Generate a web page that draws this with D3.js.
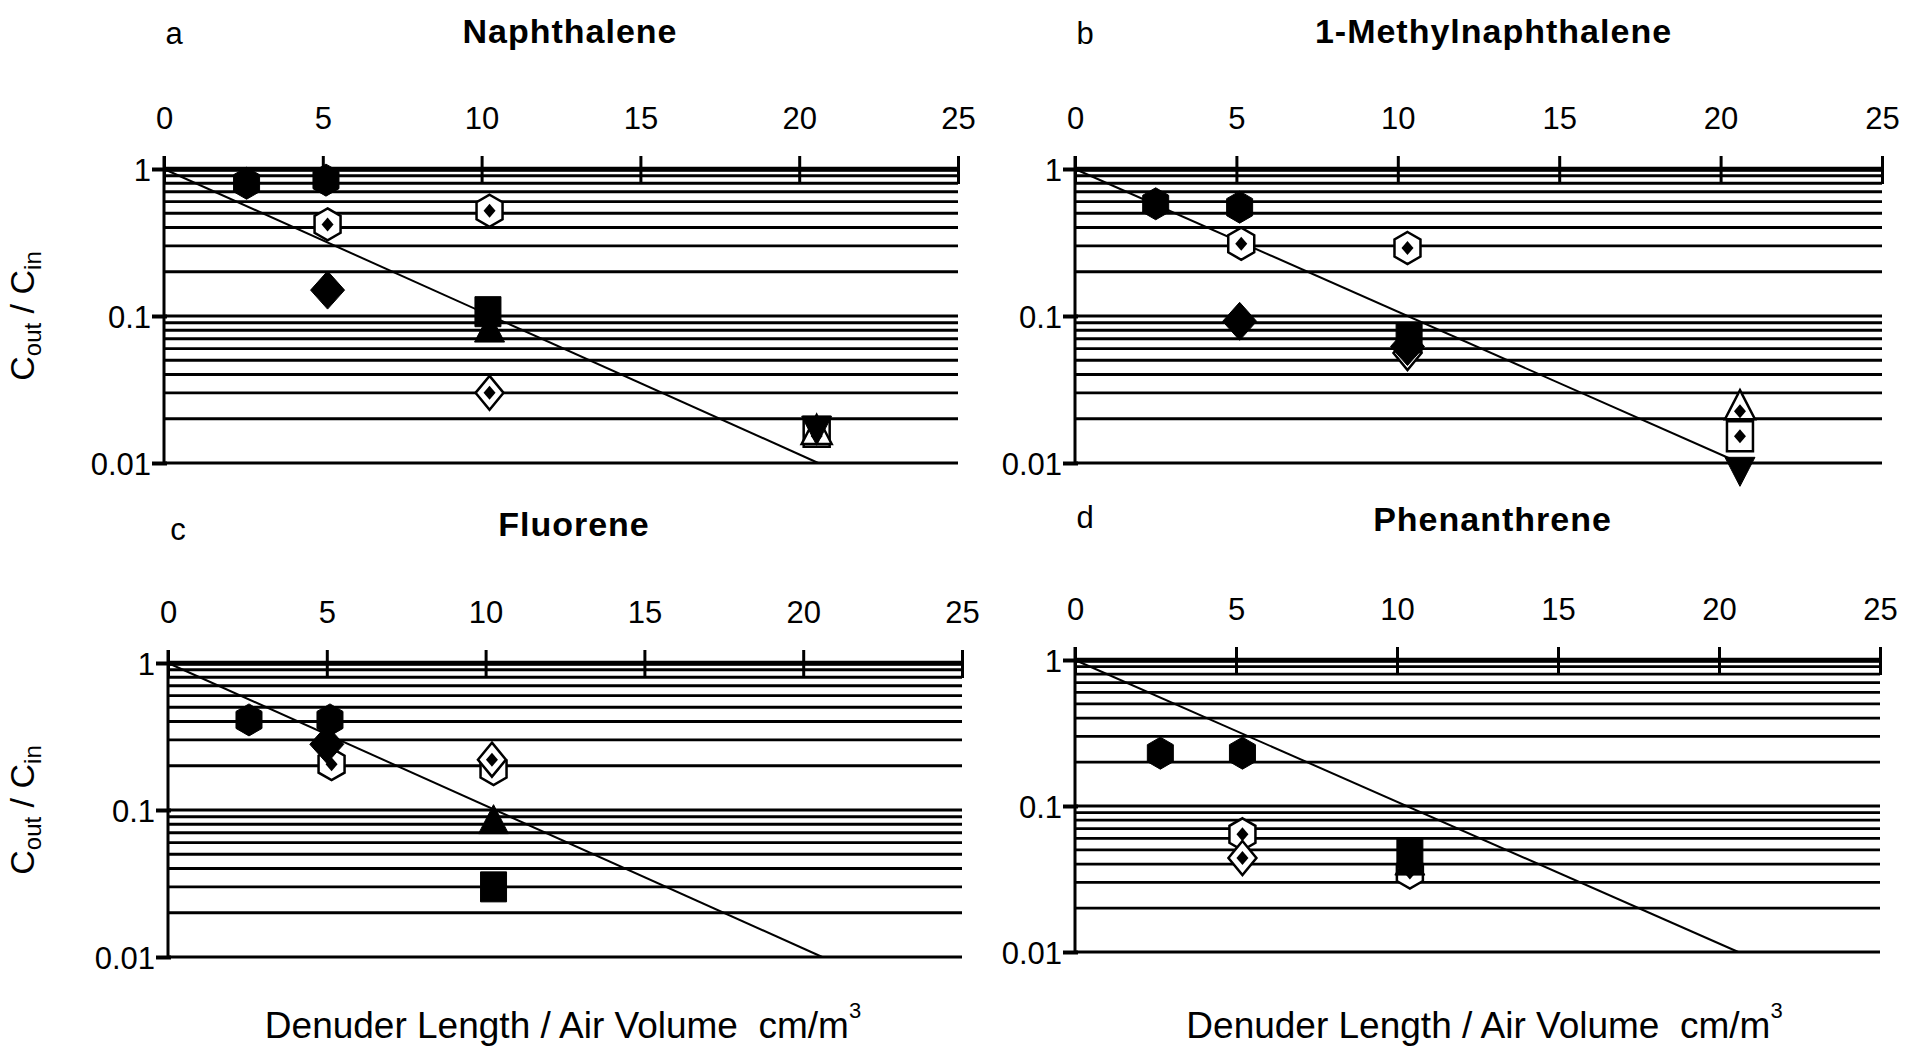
<!DOCTYPE html>
<html>
<head>
<meta charset="utf-8">
<script src="https://cdn.jsdelivr.net/npm/d3@7"></script>
<style>
body { margin: 0; background: #fff; }
text { font-family: "Liberation Sans", Arial, sans-serif; fill: #000; }
</style>
</head>
<body>
<script>
var compounds = ["Naphthalene", "1-Methylnaphthalene", "Fluorene", "Phenanthrene"];
var letters = ["a", "b", "c", "d"];
var xTicks = [0, 5, 10, 15, 20, 25];
var yTicks = [1, 0.1, 0.01];
var yTickLabels = ["1", "0.1", "0.01"];
var fitLine = [[0, 1], [20.6, 0.01]]; // prosta odniesienia

// [symbol, x, Cout/Cin]
var naphthalene = [
	["hexFilled", 2.6, 0.80], ["hexFilled", 5.1, 0.84],
	["hexOpen", 5.15, 0.42], ["hexOpen", 10.25, 0.52],
	["diamondFilled", 5.15, 0.15],
	["diamondOpen", 10.25, 0.030],
	["squareFilled", 10.2, 0.107],
	["triangleFilled", 10.25, 0.079],
	["squareOpen", 20.55, 0.0163], ["triangleOpen", 20.55, 0.016],
	["triangleDownFilled", 20.55, 0.0175]
];
var methylnaphthalene = [
	["hexFilled", 2.5, 0.58], ["hexFilled", 5.1, 0.55],
	["hexOpen", 5.15, 0.31], ["hexOpen", 10.3, 0.29],
	["diamondFilled", 5.1, 0.092], ["diamondFilled", 10.3, 0.062],
	["diamondOpen", 10.3, 0.056],
	["squareFilled", 10.35, 0.071],
	["triangleOpen", 20.6, 0.0236],
	["squareOpen", 20.6, 0.0152],
	["triangleDownFilled", 20.6, 0.0092]
];
var fluorene = [
	["hexFilled", 2.55, 0.41], ["hexFilled", 5.1, 0.41],
	["diamondFilled", 5.0, 0.28],
	["hexOpen", 5.15, 0.205], ["hexOpen", 10.25, 0.19],
	["diamondOpen", 10.2, 0.22],
	["triangleFilled", 10.25, 0.082],
	["squareFilled", 10.25, 0.030]
];
var phenanthrene = [
	["hexFilled", 2.65, 0.23], ["hexFilled", 5.2, 0.23],
	["hexOpen", 5.2, 0.064], ["hexOpen", 10.4, 0.035],
	["diamondOpen", 5.2, 0.044],
	["squareFilled", 10.4, 0.048],
	["triangleFilled", 10.4, 0.040]
];
var panelData = [naphthalene, methylnaphthalene, fluorene, phenanthrene];

var boxes = [
	{x0: 164, x1: 958, top: 169, bot: 463, letterY: 44, titleY: 43},
	{x0: 1075, x1: 1882, top: 169, bot: 463, letterY: 44, titleY: 43},
	{x0: 168, x1: 962, top: 663, bot: 957, letterY: 540, titleY: 536},
	{x0: 1075, x1: 1880, top: 660, bot: 952, letterY: 528, titleY: 531}
];

var shapes = {
	hex: [[0, -16], [13, -8.5], [13, 8.5], [0, 16], [-13, 8.5], [-13, -8.5]],
	diamond: [[0, -19], [17, 0], [0, 19], [-17, 0]],
	diamondSmall: [[0, -17], [14, 0], [0, 17], [-14, 0]],
	square: [[-13, -15], [13, -15], [13, 15], [-13, 15]],
	triUp: [[0, -18], [15, 11], [-15, 11]],
	triDown: [[0, 18], [15, -11], [-15, -11]],
	inner: [[0, -7], [6, 0], [0, 7], [-6, 0]]
};
var markers = {
	hexFilled: {shape: "hex", open: false},
	hexOpen: {shape: "hex", open: true},
	diamondFilled: {shape: "diamond", open: false},
	diamondOpen: {shape: "diamondSmall", open: true},
	squareFilled: {shape: "square", open: false},
	squareOpen: {shape: "square", open: true},
	triangleFilled: {shape: "triUp", open: false},
	triangleOpen: {shape: "triUp", open: true},
	triangleDownFilled: {shape: "triDown", open: false}
};

function poly(pts) {
	return "M" + pts.map(function(p) { return p[0] + "," + p[1]; }).join("L") + "Z";
}

var svg = d3.select("body")
	.append("svg")
	.attr("width", 1907)
	.attr("height", 1048);

svg.append("rect").attr("width", 1907).attr("height", 1048).attr("fill", "#fff");

function drawPanel(i) {
	var box = boxes[i];
	var x = d3.scaleLinear().domain([0, 25]).range([box.x0, box.x1]);
	var y = d3.scaleLog().domain([0.01, 1]).range([box.bot, box.top]);
	var g = svg.append("g");

	// poziome linie siatki
	g.selectAll("line.grid")
		.data(y.ticks())
		.enter().append("line")
		.attr("x1", box.x0).attr("x2", box.x1)
		.attr("y1", function(d) { return y(d); })
		.attr("y2", function(d) { return y(d); })
		.attr("stroke", "#000")
		.attr("stroke-width", function(d) { return d == 1 ? 4.5 : 2.8; });

	// os gorna
	var top = g.append("g")
		.attr("transform", "translate(0," + box.top + ")")
		.call(d3.axisTop(x).tickValues(xTicks).tickSize(13).tickSizeOuter(0).tickPadding(27));
	top.select(".domain").attr("stroke-width", 4.5);
	top.selectAll(".tick line").attr("y1", 15).attr("y2", -13).attr("stroke-width", 3);
	top.selectAll(".tick text").attr("font-size", 31);

	// os lewa
	var left = g.append("g")
		.attr("transform", "translate(" + box.x0 + ",0)")
		.call(d3.axisLeft(y).tickValues(yTicks)
			.tickFormat(function(d, k) { return yTickLabels[k]; })
			.tickSize(12).tickPadding(1));
	left.select(".domain").remove();
	left.selectAll(".tick line").attr("x1", 3).attr("x2", -12).attr("stroke-width", 4);
	left.selectAll(".tick text").attr("font-size", 31).attr("dy", "0.36em");
	g.append("line")
		.attr("x1", box.x0).attr("x2", box.x0)
		.attr("y1", box.top - 13).attr("y2", box.bot + 2)
		.attr("stroke", "#000").attr("stroke-width", 3);

	// prosta
	g.append("path")
		.datum(fitLine)
		.attr("d", d3.line().x(function(d) { return x(d[0]); }).y(function(d) { return y(d[1]); }))
		.attr("stroke", "#000").attr("stroke-width", 2).attr("fill", "none");

	// punkty: najpierw otwarte, potem pelne
	var pts = panelData[i].slice().sort(function(a, b) {
		return (markers[b[0]].open ? 1 : 0) - (markers[a[0]].open ? 1 : 0);
	});
	var m = g.selectAll("g.pt")
		.data(pts)
		.enter().append("g")
		.attr("transform", function(d) { return "translate(" + x(d[1]) + "," + y(d[2]) + ")"; });
	m.append("path")
		.attr("d", function(d) { return poly(shapes[markers[d[0]].shape]); })
		.attr("fill", function(d) { return markers[d[0]].open ? "#fff" : "#000"; })
		.attr("stroke", "#000")
		.attr("stroke-width", function(d) { return markers[d[0]].open ? 2.5 : 1; });
	m.filter(function(d) { return markers[d[0]].open; })
		.append("path")
		.attr("d", function(d) {
			var dy = markers[d[0]].shape == "triUp" ? 3 : 0;
			return poly(shapes.inner.map(function(p) { return [p[0], p[1] + dy]; }));
		})
		.attr("fill", "#000");

	// litera i tytul
	g.append("text")
		.attr("x", box.x0 + 10).attr("y", box.letterY)
		.attr("text-anchor", "middle")
		.attr("font-size", 31)
		.text(letters[i]);
	g.append("text")
		.attr("x", (box.x0 + box.x1) / 2 + (i % 2 ? 15 : 9)).attr("y", box.titleY)
		.attr("text-anchor", "middle")
		.attr("font-size", 34).attr("font-weight", "bold")
		.attr("letter-spacing", "1px")
		.text(compounds[i]);

	// opis osi Y (lewa kolumna)
	if (i % 2 == 0) {
		var yl = g.append("text")
			.attr("transform", "translate(34," + (box.top + box.bot) / 2 + ") rotate(-90)")
			.attr("text-anchor", "middle")
			.attr("font-size", 34);
		yl.append("tspan").text("C");
		yl.append("tspan").attr("font-size", 24).attr("dy", 7).text("out");
		yl.append("tspan").attr("dy", -7).text(" / C");
		yl.append("tspan").attr("font-size", 24).attr("dy", 7).text("in");
	}
	// opis osi X (dolny rzad)
	if (i >= 2) {
		var xl = g.append("text")
			.attr("x", (box.x0 + box.x1) / 2 + (i == 2 ? -2 : 7)).attr("y", 1038)
			.attr("text-anchor", "middle")
			.attr("font-size", 37);
		xl.append("tspan").text("Denuder Length / Air Volume\u00a0\u00a0cm/m");
		xl.append("tspan").attr("font-size", 22).attr("dy", -20).text("3");
	}
}

for (var i = 0; i < compounds.length; i++) {
	drawPanel(i);
}
</script>
</body>
</html>
